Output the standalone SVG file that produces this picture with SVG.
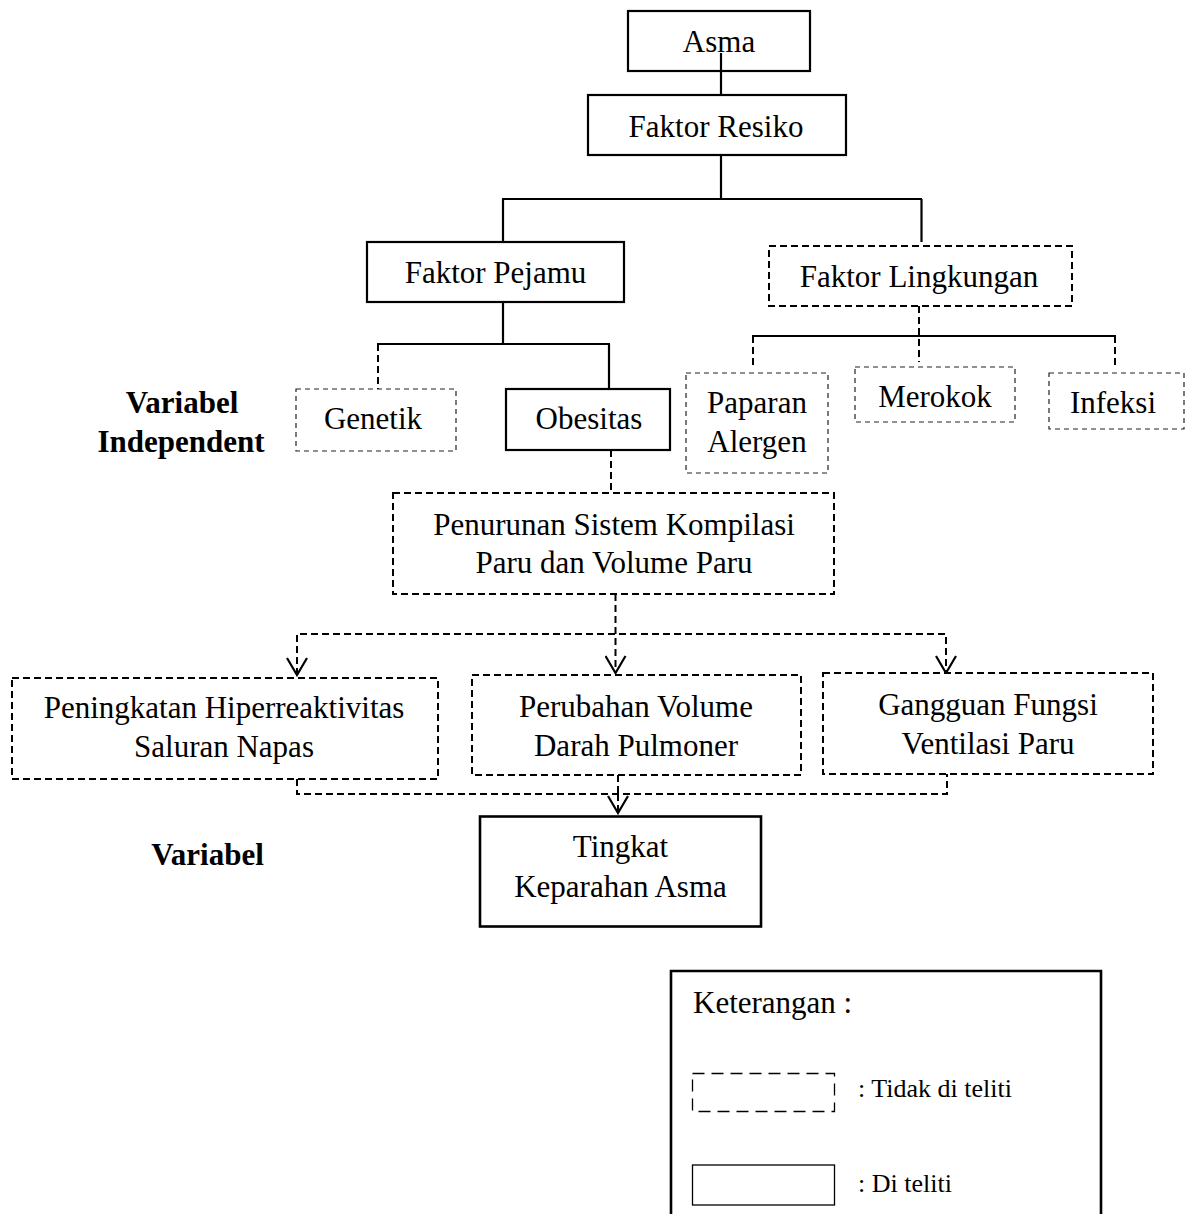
<svg xmlns="http://www.w3.org/2000/svg" width="1190" height="1214" viewBox="0 0 1190 1214">
<defs>
<style>
text{font-family:"Liberation Serif","Times New Roman",serif;font-size:31px;fill:#000;text-anchor:middle}
.lbl{font-weight:bold}
.leg{font-size:26px;text-anchor:start}
.legt{text-anchor:start}
.solid{fill:#fff;stroke:#000;stroke-width:2.2}
.heavy{fill:#fff;stroke:#000;stroke-width:2.6}
.dash{fill:#fff;stroke:#000;stroke-width:2;stroke-dasharray:7 4}
.thin{fill:#fff;stroke:#222;stroke-width:1.2;stroke-dasharray:5 4}
.ls{fill:none;stroke:#000;stroke-width:2.2}
.ld{fill:none;stroke:#000;stroke-width:2;stroke-dasharray:7 4}
</style>
<marker id="arr" viewBox="0 0 20 22" refX="18" refY="11" markerWidth="20" markerHeight="22" markerUnits="userSpaceOnUse" orient="auto-start-reverse">
<path d="M1 1 L18 11 L1 21" fill="none" stroke="#000" stroke-width="2.2"/>
</marker>
</defs>
<rect width="1190" height="1214" fill="#fff"/>

<g id="connectors">
<line class="ls" x1="721" y1="155" x2="721" y2="199"/>
<line class="ls" x1="502" y1="199" x2="922" y2="199"/>
<line class="ls" x1="503" y1="199" x2="503" y2="242"/>
<line class="ls" x1="921.5" y1="199" x2="921.5" y2="242"/>
<line class="ls" x1="503" y1="302" x2="503" y2="344"/>
<line class="ls" x1="377" y1="344" x2="610" y2="344"/>
<line class="ld" x1="378" y1="344" x2="378" y2="389"/>
<line class="ls" x1="609" y1="344" x2="609" y2="389"/>
<line class="ld" x1="919" y1="306" x2="919" y2="362"/>
<line class="ls" x1="752" y1="336" x2="1116" y2="336"/>
<line class="ld" x1="753" y1="336" x2="753" y2="366"/>
<line class="ld" x1="1115" y1="336" x2="1115" y2="366"/>
<line class="ld" x1="611" y1="450" x2="611" y2="493"/>
<line class="ld" x1="615.5" y1="594" x2="615.5" y2="673" marker-end="url(#arr)"/>
<polyline class="ld" points="297,675 297,634 946,634 946,673" marker-start="url(#arr)" marker-end="url(#arr)"/>
<polyline class="ld" points="297,779 297,794 947,794 947,774"/>
<line class="ld" x1="618" y1="775" x2="618" y2="794"/>
<line class="ld" x1="618" y1="794" x2="618" y2="813" marker-end="url(#arr)"/>
</g>

<g id="asma">
<rect class="solid" x="628" y="11" width="182" height="60"/>
<text x="719" y="52">Asma</text>
<line class="ls" x1="721" y1="53" x2="721" y2="95"/>
</g>
<g id="faktor-resiko">
<rect class="solid" x="588" y="95" width="258" height="60"/>
<text x="716" y="137">Faktor Resiko</text>
</g>
<g id="faktor-pejamu">
<rect class="solid" x="367" y="242" width="257" height="60"/>
<text x="495.5" y="283">Faktor Pejamu</text>
</g>
<g id="faktor-lingkungan">
<rect class="dash" x="769" y="246" width="303" height="60"/>
<text x="919" y="287">Faktor Lingkungan</text>
</g>
<g id="genetik">
<rect class="thin" x="296" y="389" width="160" height="62"/>
<text x="373" y="429">Genetik</text>
</g>
<g id="obesitas">
<rect class="solid" x="506" y="389" width="164" height="61"/>
<text x="589" y="429">Obesitas</text>
</g>
<g id="paparan-alergen">
<rect class="thin" x="686" y="373" width="142" height="100"/>
<text x="757" y="413">Paparan</text>
<text x="757" y="452">Alergen</text>
</g>
<g id="merokok">
<rect class="thin" x="855" y="367" width="160" height="55"/>
<text x="935" y="407">Merokok</text>
</g>
<g id="infeksi">
<rect class="thin" x="1049" y="373" width="135" height="56"/>
<text x="1113" y="413">Infeksi</text>
</g>
<g id="variabel-independent">
<text class="lbl" x="182" y="413">Variabel</text>
<text class="lbl" x="181" y="452">Independent</text>
</g>
<g id="penurunan">
<rect class="dash" x="393" y="493" width="441" height="101"/>
<text x="614" y="535">Penurunan Sistem Kompilasi</text>
<text x="614" y="573">Paru dan Volume Paru</text>
</g>
<g id="peningkatan">
<rect class="dash" x="12" y="678" width="426" height="101"/>
<text x="224" y="718">Peningkatan Hiperreaktivitas</text>
<text x="224" y="757">Saluran Napas</text>
</g>
<g id="perubahan">
<rect class="dash" x="472" y="675" width="329" height="100"/>
<text x="636" y="717">Perubahan Volume</text>
<text x="636" y="756">Darah Pulmoner</text>
</g>
<g id="gangguan">
<rect class="dash" x="823" y="673" width="330" height="101"/>
<text x="988" y="715">Gangguan Fungsi</text>
<text x="988" y="754">Ventilasi Paru</text>
</g>
<g id="variabel">
<text class="lbl" x="207.5" y="865">Variabel</text>
</g>
<g id="tingkat">
<rect class="heavy" x="480" y="816.5" width="281" height="110"/>
<text x="620.5" y="857">Tingkat</text>
<text x="620.5" y="897">Keparahan Asma</text>
</g>
<g id="legend">
<path d="M671 1216 V971 H1101 V1216" fill="none" stroke="#000" stroke-width="2.6"/>
<text class="legt" x="693" y="1013">Keterangan :</text>
<rect x="692.5" y="1073.5" width="142" height="38" fill="none" stroke="#000" stroke-width="1.3" stroke-dasharray="12 7"/>
<text class="leg" x="858" y="1097">: Tidak di teliti</text>
<rect x="692.5" y="1165" width="142" height="40" fill="none" stroke="#000" stroke-width="1.3"/>
<text class="leg" x="858" y="1192">: Di teliti</text>
</g>
</svg>
